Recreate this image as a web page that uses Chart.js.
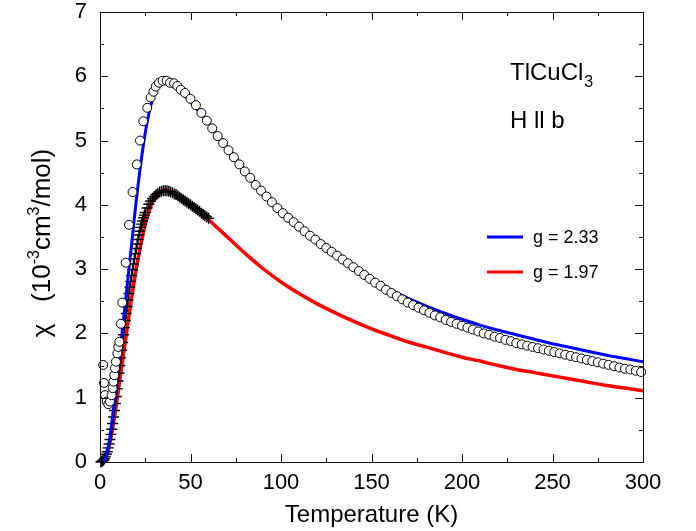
<!DOCTYPE html>
<html>
<head>
<meta charset="utf-8">
<script src="https://cdn.jsdelivr.net/npm/chart.js@4.4.0/dist/chart.umd.min.js"></script>
<style>
  html, body { margin: 0; padding: 0; background: #fff; }
  #wrap { width: 696px; height: 531px; }
</style>
</head>
<body>
<div id="wrap"><canvas id="chart"></canvas></div>
<script>
// ── TlCuCl3 susceptibility, H || b
const FONT = '"Liberation Sans", Arial, sans-serif';

// open circles (g = 2.33 data)
const CIRCLE_T = [1.8, 2.2, 2.8, 3.7, 4.6, 5.5, 6.4, 7.0, 7.4, 7.9, 8.3, 8.8, 9.6, 10.1, 10.7, 11.5, 12.3, 14.2, 16.0, 18.0,
  20.3, 22.1, 23.9, 26.1, 28.0, 29.5, 30.8, 32.6, 34.6, 36.8, 38.7, 40.9, 42.7, 44.6,
  47, 50, 53, 56, 59, 62, 65, 68, 71, 74, 77, 80, 83, 86, 89, 92, 95, 98, 101, 104, 107, 110, 113, 116, 119,
  122, 125, 128, 131, 134, 137, 140, 143, 146, 149, 152, 155, 158, 161, 164, 167, 170, 173, 176, 179, 182,
  185, 188, 191, 194, 197, 200, 203, 206, 209, 212, 215, 218, 221, 224, 227, 230, 233, 236, 239, 242, 245,
  248, 251, 254, 257, 260, 263, 266, 269, 272, 275, 278, 281, 284, 287, 290, 293, 296, 299];
const CIRCLE_CHI = [1.51, 1.23, 1.04, 0.94, 0.90, 0.94, 1.04, 1.15, 1.25, 1.35, 1.46, 1.56, 1.69, 1.79, 1.87, 2.15, 2.48, 3.10, 3.69, 4.20,
  4.63, 5.00, 5.30, 5.51, 5.67, 5.76, 5.84, 5.90, 5.93, 5.93, 5.90, 5.89, 5.85, 5.79,
  5.74, 5.65, 5.55, 5.43, 5.31, 5.19, 5.07, 4.96, 4.85, 4.74, 4.63, 4.52, 4.42, 4.31, 4.22, 4.13, 4.04, 3.95, 3.87, 3.80, 3.73, 3.66, 3.59, 3.52, 3.46,
  3.39, 3.33, 3.27, 3.21, 3.15, 3.09, 3.03, 2.97, 2.91, 2.85, 2.79, 2.74, 2.68, 2.63, 2.58, 2.53, 2.48, 2.44, 2.40, 2.36, 2.32,
  2.28, 2.25, 2.21, 2.18, 2.15, 2.12, 2.09, 2.06, 2.03, 2.00, 1.98, 1.95, 1.93, 1.90, 1.88, 1.85, 1.83, 1.81, 1.79, 1.77, 1.75,
  1.73, 1.71, 1.69, 1.67, 1.65, 1.63, 1.61, 1.59, 1.57, 1.55, 1.53, 1.51, 1.49, 1.47, 1.45, 1.44, 1.42, 1.40];

// crosses (g = 1.97 data)
const CROSS_T = [0.5, 1, 1.5, 2, 2.5, 3, 3.5, 4, 4.5, 5, 5.5, 6, 6.5, 7, 7.5, 8, 8.5, 9, 9.5, 10, 10.5, 11, 11.5, 12, 12.5,
  13, 13.5, 14, 14.5, 15, 15.5, 16, 16.5, 17, 17.5, 18, 18.5, 19, 19.5, 20, 20.5, 21, 21.5, 22, 22.5, 23, 23.5, 24, 24.5, 25,
  26, 27, 28, 29, 30, 31, 32, 33, 34, 35, 36, 37, 38, 39, 40, 41, 42, 43, 44, 45, 46, 47, 48, 49, 50,
  51, 52, 53, 54, 55, 56, 57, 58, 59, 60];
const CROSS_CHI = [0.00, 0.01, 0.02, 0.03, 0.05, 0.08, 0.12, 0.16, 0.22, 0.28, 0.35, 0.43, 0.51, 0.60, 0.70, 0.80, 0.91, 1.02, 1.14, 1.26, 1.38, 1.50, 1.62, 1.74, 1.86,
  1.98, 2.09, 2.20, 2.31, 2.42, 2.52, 2.62, 2.72, 2.81, 2.90, 2.99, 3.08, 3.16, 3.24, 3.32, 3.39, 3.46, 3.53, 3.59, 3.65, 3.70, 3.75, 3.80, 3.84, 3.88,
  3.95, 4.01, 4.06, 4.10, 4.13, 4.16, 4.18, 4.20, 4.21, 4.22, 4.22, 4.22, 4.21, 4.20, 4.19, 4.17, 4.16, 4.14, 4.12, 4.10, 4.08, 4.06, 4.04, 4.02, 4.00,
  3.98, 3.96, 3.94, 3.92, 3.90, 3.87, 3.85, 3.83, 3.81, 3.79];

// fit curves
const BLUE_T = [2, 3, 4, 5, 6, 7, 8, 9, 10, 11, 12, 13, 14, 15, 16, 17, 18, 19, 20, 21, 22, 23, 24, 25, 26, 27, 28, 29, 30,
  32, 34, 36, 38, 40, 43, 46, 50, 55, 60, 65, 70, 75, 80, 90, 100, 110, 120, 130, 140, 150, 160, 170, 180, 190,
  200, 210, 220, 230, 240, 250, 260, 270, 280, 290, 300];
const BLUE_CHI = [0.00, 0.05, 0.15, 0.30, 0.50, 0.72, 0.96, 1.20, 1.45, 1.70, 1.96, 2.22, 2.48, 2.74, 3.00, 3.27, 3.53, 3.80, 4.06, 4.30, 4.53, 4.74, 4.94, 5.12, 5.28, 5.42, 5.54, 5.64, 5.72,
  5.83, 5.89, 5.91, 5.90, 5.87, 5.80, 5.72, 5.60, 5.44, 5.27, 5.09, 4.91, 4.73, 4.55, 4.21, 3.91, 3.65, 3.43, 3.22, 3.03, 2.85, 2.69, 2.55, 2.43, 2.32,
  2.22, 2.13, 2.05, 1.98, 1.91, 1.84, 1.78, 1.72, 1.66, 1.61, 1.56];
const RED_T = [1, 2, 3, 4, 5, 6, 7, 8, 9, 10, 11, 12, 13, 14, 15, 16, 17, 18, 19, 20, 21, 22, 23, 24, 25, 26, 27, 28, 29, 30,
  32, 34, 36, 38, 40, 43, 46, 50, 55, 60, 65, 70, 75, 80, 90, 100, 110, 120, 130, 140, 150, 160, 170, 180, 190,
  200, 210, 220, 230, 240, 250, 260, 270, 280, 290, 300];
const RED_CHI = [0.00, 0.02, 0.06, 0.13, 0.24, 0.37, 0.53, 0.70, 0.89, 1.08, 1.28, 1.48, 1.68, 1.88, 2.08, 2.28, 2.47, 2.65, 2.83, 3.00, 3.16, 3.31, 3.45, 3.58, 3.70, 3.80, 3.89, 3.97, 4.04, 4.09,
  4.17, 4.21, 4.23, 4.22, 4.20, 4.15, 4.09, 4.00, 3.89, 3.77, 3.64, 3.51, 3.38, 3.25, 3.01, 2.80, 2.62, 2.46, 2.32, 2.19, 2.07, 1.97, 1.87, 1.79, 1.71,
  1.63, 1.57, 1.50, 1.44, 1.39, 1.34, 1.29, 1.24, 1.19, 1.15, 1.11];

const X_MINOR_TICKS = [25, 75, 125, 175, 225, 275];
const Y_MINOR_TICKS = [0.5, 1.5, 2.5, 3.5, 4.5, 5.5, 6.5];
const LEGEND_LABELS = ['g = 2.33', 'g = 1.97'];
const LEGEND_COLORS = ['#0000ff', '#ff0000'];

const pts = (xs, ys) => xs.map((x, i) => ({ x, y: ys[i] }));

// frame + inward ticks on all four sides
const frameTicks = {
  id: 'frameTicks',
  afterDatasetsDraw(chart) {
    const { ctx, chartArea: a, scales: { x, y } } = chart;
    ctx.save();
    ctx.strokeStyle = '#111';
    ctx.lineWidth = 1;
    ctx.strokeRect(a.left + 0.5, a.top + 0.5, a.right - a.left, a.bottom - a.top);
    ctx.beginPath();
    const xt = (v, len) => {
      const px = Math.round(x.getPixelForValue(v)) + 0.5;
      ctx.moveTo(px, a.bottom); ctx.lineTo(px, a.bottom - len);
      ctx.moveTo(px, a.top); ctx.lineTo(px, a.top + len);
    };
    const yt = (v, len) => {
      const py = Math.round(y.getPixelForValue(v)) + 0.5;
      ctx.moveTo(a.left, py); ctx.lineTo(a.left + len, py);
      ctx.moveTo(a.right, py); ctx.lineTo(a.right - len, py);
    };
    x.ticks.forEach(t => xt(t.value, 8));
    X_MINOR_TICKS.forEach(v => xt(v, 4));
    y.ticks.forEach(t => yt(t.value, 8));
    Y_MINOR_TICKS.forEach(v => yt(v, 4));
    ctx.stroke();
    ctx.restore();
  }
};

// titles, sample label, legend
const annotations = {
  id: 'annotations',
  afterDraw(chart) {
    const { ctx, chartArea: a } = chart;
    ctx.save();
    ctx.fillStyle = '#000';
    ctx.textBaseline = 'alphabetic';

    // x title
    ctx.font = `24px ${FONT}`;
    ctx.textAlign = 'center';
    ctx.fillText('Temperature (K)', (a.left + a.right) / 2, 522);

    // y title with superscripts
    ctx.textAlign = 'left';
    const parts = [
      ['\u03c7', 26, 0], ['   (10', 26, 0], ['-3', 16, -11], ['cm', 26, 0], ['3', 16, -11], ['/mol)', 26, 0]
    ];
    let total = 0;
    parts.forEach(p => { ctx.font = `${p[1]}px ${FONT}`; total += ctx.measureText(p[0]).width; });
    ctx.translate(50, 243);
    ctx.rotate(-Math.PI / 2);
    let cx = -total / 2;
    parts.forEach(p => {
      ctx.font = `${p[1]}px ${FONT}`;
      ctx.fillText(p[0], cx, p[2]);
      cx += ctx.measureText(p[0]).width;
    });
    ctx.setTransform(1, 0, 0, 1, 0, 0);

    // sample
    ctx.font = `24px ${FONT}`;
    ctx.fillText('TlCuCl', 510, 80);
    const w = ctx.measureText('TlCuCl').width;
    ctx.font = `16px ${FONT}`;
    ctx.fillText('3', 510 + w + 1, 87);
    ctx.font = `24px ${FONT}`;
    ctx.fillText('H ll b', 510, 128);

    // legend
    ctx.font = `18px ${FONT}`;
    [237, 272].forEach((ly, i) => {
      ctx.strokeStyle = LEGEND_COLORS[i];
      ctx.lineWidth = 3;
      ctx.beginPath();
      ctx.moveTo(487, ly); ctx.lineTo(523, ly);
      ctx.stroke();
      ctx.fillText(LEGEND_LABELS[i], 533, ly + 6);
    });
    ctx.restore();
  }
};

new Chart(document.getElementById('chart'), {
  type: 'scatter',
  data: {
    datasets: [
      { data: pts(CIRCLE_T, CIRCLE_CHI), order: 0, pointStyle: 'circle', pointRadius: 4.5, borderWidth: 1,
        borderColor: '#000', backgroundColor: '#fff', clip: false },
      { data: pts(BLUE_T, BLUE_CHI), order: 1, showLine: true, pointRadius: 0, borderColor: '#0000ff',
        borderWidth: 3, cubicInterpolationMode: 'monotone' },
      { data: pts(CROSS_T, CROSS_CHI), order: 2, pointStyle: 'cross', pointRadius: 5.5, borderWidth: 1.4,
        borderColor: '#000', clip: false },
      { data: pts(RED_T, RED_CHI), order: 3, showLine: true, pointRadius: 0, borderColor: '#ff0000',
        borderWidth: 3.5, cubicInterpolationMode: 'monotone' }
    ]
  },
  options: {
    responsive: true,
    maintainAspectRatio: false,
    animation: false,
    devicePixelRatio: 1,
    layout: { padding: { top: 12, right: 53, left: 0, bottom: 0 } },
    plugins: { legend: { display: false }, tooltip: { enabled: false } },
    scales: {
      x: {
        type: 'linear', min: 0, max: 300,
        grid: { display: false, drawTicks: false }, border: { display: false },
        ticks: { stepSize: 50, padding: 10, color: '#000', maxRotation: 0, font: { family: FONT, size: 22, lineHeight: 1 } },
        afterFit: s => { s.height = 69; s.paddingLeft = 0; s.paddingRight = 0; }
      },
      y: {
        type: 'linear', min: 0, max: 7,
        grid: { display: false, drawTicks: false }, border: { display: false },
        ticks: { stepSize: 1, padding: 13, color: '#000', font: { family: FONT, size: 22, lineHeight: 1 } },
        afterFit: s => { s.width = 100; s.paddingTop = 0; s.paddingBottom = 0; }
      }
    }
  },
  plugins: [frameTicks, annotations]
});
</script>
</body>
</html>
